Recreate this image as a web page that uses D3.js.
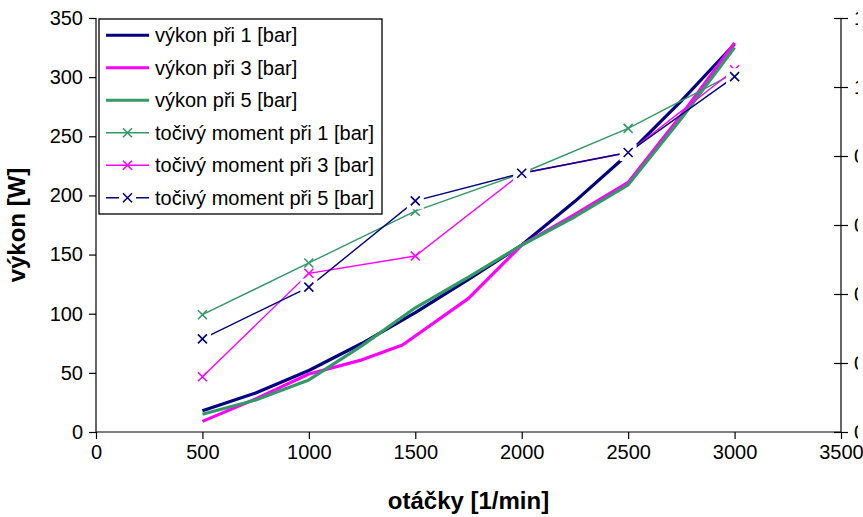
<!DOCTYPE html>
<html>
<head>
<meta charset="utf-8">
<script src="https://cdn.jsdelivr.net/npm/d3@7"></script>
<style>
  html, body { margin: 0; padding: 0; background: #fff; }
  svg { display: block; font-family: "Liberation Sans", Arial, sans-serif; }
</style>
</head>
<body>
<svg id="chart" width="863" height="517"></svg>
<script>
// Engine speed at which torque was measured [1/min]
const rpm = [500, 1000, 1500, 2000, 2500, 3000];

// Power curves are sampled more densely
const powerRpm = [500, 750, 1000, 1250, 1500, 1750, 2000, 2250, 2500, 2750, 3000];
const powerRpm3 = [500, 750, 1000, 1250, 1440, 1750, 2000, 2250, 2500, 2750, 3000];

// Power [W]
const power1 = [18, 33, 52, 75, 101, 129, 158, 195, 235, 280, 328];
const power3 = [9, 28, 49, 61, 73.5, 113, 158, 184, 211, 268, 329];
const power5 = [15, 27, 44, 73, 105, 131, 158, 182, 209, 265, 325];

// Torque [Nm], secondary axis
const torque1 = [0.34, 0.49, 0.64, 0.75, 0.88, 1.04];
const torque3 = [0.16, 0.46, 0.51, 0.75, 0.81, 1.05];
const torque5 = [0.27, 0.42, 0.67, 0.75, 0.81, 1.03];

// Axis ticks
const xTicks = [0, 500, 1000, 1500, 2000, 2500, 3000, 3500];
const yTicks = [0, 50, 100, 150, 200, 250, 300, 350];
const y2Ticks = [0, 0.2, 0.4, 0.6, 0.8, 1.0, 1.2];

const legendLabels = [
  "výkon při 1 [bar]", "výkon při 3 [bar]", "výkon při 5 [bar]",
  "točivý moment při 1 [bar]", "točivý moment při 3 [bar]", "točivý moment při 5 [bar]"
];

const NAVY = "#000080", MAGENTA = "#FF00FF", GREEN = "#339966";

const svg = d3.select("#chart");
const plotL = 96, plotR = 841, plotT = 18, plotB = 432;

const x = d3.scaleLinear().domain([0, 3500]).range([plotL, plotR]);
const y = d3.scaleLinear().domain([0, 350]).range([plotB, plotT]);
const y2 = d3.scaleLinear().domain([0, 1.2]).range([plotB, plotT]);

const FS = 20;

// Left axis
const gy = svg.append("g").attr("transform", `translate(${plotL},0)`)
  .call(d3.axisLeft(y).tickValues(yTicks).tickSize(7).tickPadding(6).tickFormat(d3.format("d")));
// Bottom axis
const gx = svg.append("g").attr("transform", `translate(0,${plotB})`)
  .call(d3.axisBottom(x).tickValues(xTicks).tickSize(7).tickPadding(6).tickFormat(d3.format("d")));
// Right axis (crossing ticks); labels run past the edge of the chart area
svg.append("defs").append("clipPath").attr("id", "rclip")
  .append("rect").attr("x", 0).attr("y", -20).attr("width", 858 - plotR).attr("height", 500);
const gy2 = svg.append("g").attr("transform", `translate(${plotR},0)`)
  .call(d3.axisRight(y2).tickValues(y2Ticks).tickSize(7).tickPadding(6)
    .tickFormat(d => d3.format(".1~f")(d).replace(".", ",")));
gy2.selectAll(".tick line").attr("x1", -7);
gy2.selectAll(".tick text").attr("clip-path", "url(#rclip)");

[gx, gy, gy2].forEach(g => {
  g.select(".domain").attr("stroke", "#000").attr("stroke-width", 1.2);
  g.selectAll(".tick line").attr("stroke", "#000").attr("stroke-width", 1.2);
  g.selectAll(".tick text").attr("fill", "#000").style("font-size", FS + "px")
    .style("font-family", '"Liberation Sans", Arial, sans-serif');
});
gy2.select(".domain").attr("d", `M0,${plotT}V${plotB}`);
gy.select(".domain").attr("d", `M0,${plotT}V${plotB}`);
gx.select(".domain").attr("d", `M${plotL},0H${plotR}`);

// Axis titles
svg.append("text").attr("transform", `translate(25,${(plotT + plotB) / 2}) rotate(-90)`)
  .attr("text-anchor", "middle").style("font-size", "24px").style("font-weight", "bold")
  .text("výkon [W]");
svg.append("text").attr("x", (plotL + plotR) / 2).attr("y", 509)
  .attr("text-anchor", "middle").style("font-size", "24px").style("font-weight", "bold")
  .text("otáčky [1/min]");

// Power curves (thick)
const powerSeries = [
  { xs: powerRpm, ys: power1, color: NAVY },
  { xs: powerRpm3, ys: power3, color: MAGENTA },
  { xs: powerRpm, ys: power5, color: GREEN }
];
const line = d3.line().x(d => x(d[0])).y(d => y(d[1]));
powerSeries.forEach(s => {
  svg.append("path").datum(s.xs.map((v, i) => [v, s.ys[i]]))
    .attr("d", line).attr("fill", "none").attr("stroke", s.color)
    .attr("stroke-width", 3.2).attr("stroke-linejoin", "round");
});

// Torque curves (thin, x markers)
const line2 = d3.line().x(d => x(d[0])).y(d => y2(d[1]));
const torqueSeries = [
  { ys: torque1, color: GREEN, boxed: false },
  { ys: torque3, color: MAGENTA, boxed: false },
  { ys: torque5, color: NAVY, boxed: true }
];
const M = 4.5, BOX = 8.5;
function marker(g, cx, cy, color, boxed) {
  if (boxed) {
    g.append("rect").attr("x", cx - BOX).attr("y", cy - BOX)
      .attr("width", 2 * BOX).attr("height", 2 * BOX).attr("fill", "#fff");
  }
  g.append("path")
    .attr("d", `M${cx - M},${cy - M}L${cx + M},${cy + M}M${cx - M},${cy + M}L${cx + M},${cy - M}`)
    .attr("stroke", color).attr("stroke-width", 1.6).attr("fill", "none");
}
torqueSeries.forEach(s => {
  const g = svg.append("g");
  g.append("path").datum(rpm.map((v, i) => [v, s.ys[i]]))
    .attr("d", line2).attr("fill", "none").attr("stroke", s.color).attr("stroke-width", 1.4);
  rpm.forEach((v, i) => marker(g, x(v), y2(s.ys[i]), s.color, s.boxed));
});

// Legend
const lg = svg.append("g");
const lx0 = 99, ly0 = 19, lw = 283, lh = 195;
lg.append("rect").attr("x", lx0).attr("y", ly0).attr("width", lw).attr("height", lh)
  .attr("fill", "#fff").attr("stroke", "#000").attr("stroke-width", 1.3);
const legendItems = [
  { color: NAVY, thick: true }, { color: MAGENTA, thick: true }, { color: GREEN, thick: true },
  { color: GREEN, thick: false }, { color: MAGENTA, thick: false }, { color: NAVY, thick: false, boxed: true }
];
const rowH = lh / 6;
legendItems.forEach((it, i) => {
  const cy = ly0 + rowH * (i + 0.5);
  lg.append("line").attr("x1", 106).attr("x2", 149).attr("y1", cy).attr("y2", cy)
    .attr("stroke", it.color).attr("stroke-width", it.thick ? 3.2 : 1.4);
  if (!it.thick) marker(lg, 127.5, cy, it.color, it.boxed);
  lg.append("text").attr("x", 155).attr("y", cy + 7).style("font-size", FS + "px")
    .text(legendLabels[i]);
});
</script>
</body>
</html>
